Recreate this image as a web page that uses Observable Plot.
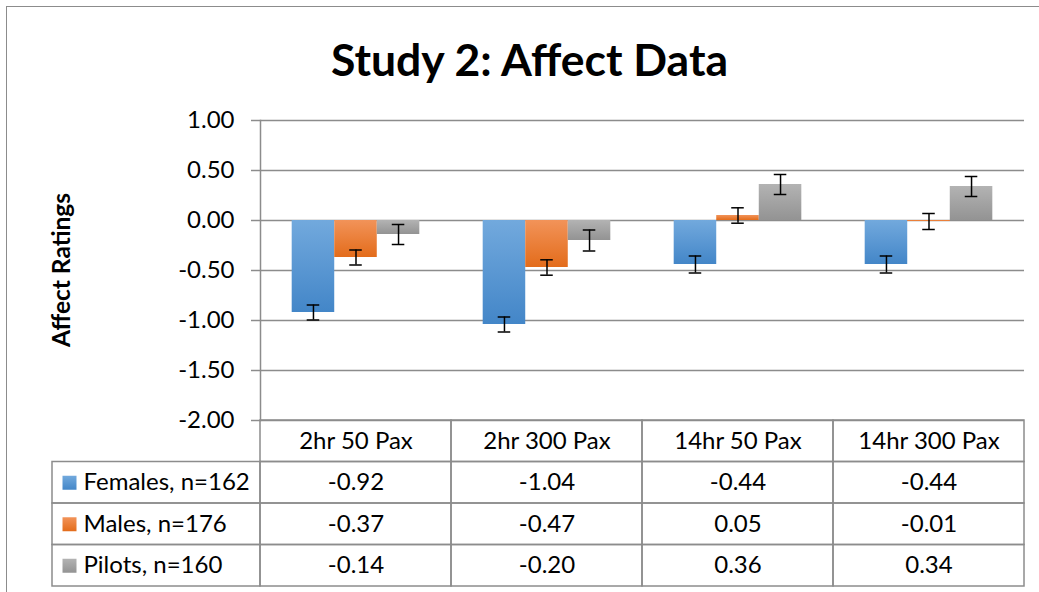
<!DOCTYPE html>
<html>
<head>
<meta charset="utf-8">
<script src="https://cdn.jsdelivr.net/npm/d3@7"></script>
<script src="https://cdn.jsdelivr.net/npm/@observablehq/plot@0.6"></script>
<style>
  body { margin: 0; background: #fff; }
  #wrap { position: relative; width: 1039px; height: 592px; overflow: hidden; background: #fff; font-family: Lato, "Open Sans", sans-serif; }
  #border { position: absolute; left: 6px; top: 6px; width: 1200px; height: 800px; border: 1.5px solid #8c8c8c; box-sizing: border-box; }
  #title { position: absolute; left: 0; top: 32px; width: 1059px; text-align: center; font-weight: 700; font-size: 44.5px; line-height: 54px; color: #000; }
  #ytitle { position: absolute; left: -89px; top: 256px; width: 300px; text-align: center; font-weight: 700; font-size: 24.5px; line-height: 28px; transform: rotate(-90deg); transform-origin: 150px 14px; color: #000; }
  svg { position: absolute; }
</style>
</head>
<body>
<div id="wrap">
  <div id="border"></div>
  <div id="title">Study 2: Affect Data</div>
  <div id="ytitle">Affect Ratings</div>
</div>
<script>
// ---- data ----
const groups = ["2hr 50 Pax", "2hr 300 Pax", "14hr 50 Pax", "14hr 300 Pax"];
const series = ["Females, n=162", "Males, n=176", "Pilots, n=160"];
const females = [-0.92, -1.04, -0.44, -0.44];
const males = [-0.37, -0.47, 0.05, -0.01];
const pilots = [-0.14, -0.20, 0.36, 0.34];
const femalesErr = [0.075, 0.075, 0.085, 0.085];
const malesErr = [0.075, 0.077, 0.077, 0.08];
const pilotsErr = [0.10, 0.105, 0.10, 0.10];
const yTicks = [1, 0.5, 0, -0.5, -1, -1.5, -2];

const FONT = "Lato, 'Open Sans', sans-serif";
const FS = 24;
const values = [females, males, pilots];
const errs = [femalesErr, malesErr, pilotsErr];
const fills = ["url(#gFem)", "url(#gMal)", "url(#gPil)"];
const GRID = "#8c8c8c";

const barData = [];
series.forEach((s, si) => groups.forEach((g, gi) => {
  barData.push({group: g, series: s, value: values[si][gi], err: errs[si][gi]});
}));

const wrap = document.getElementById("wrap");

// ---- chart ----
const chart = Plot.plot({
  width: 1039, height: 440,
  marginLeft: 260, marginRight: 15, marginTop: 120, marginBottom: 20,
  style: {fontFamily: FONT, fontSize: FS + "px", color: "black", background: "transparent", overflow: "visible"},
  fx: {domain: groups, padding: 0, axis: null, round: false},
  x: {domain: series, paddingInner: 0, paddingOuter: 0.745, axis: null, round: false},
  y: {domain: [-2, 1], axis: null},
  color: {domain: series, range: fills},
  marks: [
    Plot.ruleY(yTicks, {stroke: GRID, strokeWidth: 1.5}),
    Plot.barY(barData, {fx: "group", x: "series", y: "value", fill: "series"}),
    Plot.axisY({ticks: yTicks, tickFormat: d => d.toFixed(2), tickSize: 9, tickPadding: 17,
      stroke: GRID, strokeWidth: 1.5, fill: "black", fontSize: FS, label: null}),
    Plot.frame({anchor: "left", facetAnchor: "left", stroke: GRID, strokeWidth: 1.5}),
    Plot.ruleX(barData, {fx: "group", x: "series", y1: d => d.value - d.err, y2: d => d.value + d.err, stroke: "black", strokeWidth: 1.5}),
    Plot.tickY(barData, {fx: "group", x: "series", y: d => d.value - d.err, insetLeft: 15, insetRight: 15, stroke: "black", strokeWidth: 1.5}),
    Plot.tickY(barData, {fx: "group", x: "series", y: d => d.value + d.err, insetLeft: 15, insetRight: 15, stroke: "black", strokeWidth: 1.5})
  ]
});
chart.style.left = "0px";
chart.style.top = "0px";
d3.select(chart).insert("defs", ":first-child").html(`
  <linearGradient id="gFem" x1="0" y1="0" x2="0" y2="1">
    <stop offset="0" stop-color="#72a9dd"/><stop offset="1" stop-color="#4386c8"/></linearGradient>
  <linearGradient id="gMal" x1="0" y1="0" x2="0" y2="1">
    <stop offset="0" stop-color="#f29359"/><stop offset="1" stop-color="#e36c1b"/></linearGradient>
  <linearGradient id="gPil" x1="0" y1="0" x2="0" y2="1">
    <stop offset="0" stop-color="#b3b3b3"/><stop offset="1" stop-color="#939393"/></linearGradient>
`);
wrap.appendChild(chart);

// ---- data table ----
const rows = ["header", ...series];
const tableCells = [];
rows.forEach((r, ri) => groups.forEach((g, gi) => {
  tableCells.push({row: r, group: g, text: ri === 0 ? g : values[ri - 1][gi].toFixed(2)});
}));

const table = Plot.plot({
  width: 1039, height: 192,
  marginLeft: 260, marginRight: 15, marginTop: 20, marginBottom: 6,
  style: {fontFamily: FONT, fontSize: FS + "px", color: "black", background: "transparent", overflow: "visible"},
  x: {domain: groups, padding: 0, axis: null, round: false},
  y: {domain: rows, padding: 0, axis: null, round: false},
  marks: [
    Plot.cell(tableCells, {x: "group", y: "row", fill: "none", stroke: GRID, strokeWidth: 1.5, inset: 0}),
    Plot.text(tableCells, {x: "group", y: "row", text: "text", fontSize: FS, fill: "black"})
  ]
});
table.style.left = "0px";
table.style.top = "400px";
wrap.appendChild(table);

const legendRows = series.map(s => ({row: s, col: "label"}));
const tableLeft = Plot.plot({
  width: 262, height: 192,
  marginLeft: 52, marginRight: 2, marginTop: 20, marginBottom: 6,
  style: {fontFamily: FONT, fontSize: FS + "px", color: "black", background: "transparent", overflow: "visible"},
  x: {domain: ["label"], padding: 0, axis: null},
  y: {domain: rows, padding: 0, axis: null, round: false},
  color: {domain: series, range: fills},
  marks: [
    Plot.cell(legendRows, {x: "col", y: "row", fill: "none", stroke: GRID, strokeWidth: 1.5, inset: 0}),
    Plot.dot(legendRows, {y: "row", frameAnchor: "left", dx: 17, symbol: "square", r: 7.9, fill: "row", stroke: null}),
    Plot.text(legendRows, {y: "row", frameAnchor: "left", dx: 31, text: "row", textAnchor: "start", fontSize: FS, fill: "black"})
  ]
});
tableLeft.style.left = "0px";
tableLeft.style.top = "400px";
wrap.appendChild(tableLeft);
</script>
</body>
</html>
